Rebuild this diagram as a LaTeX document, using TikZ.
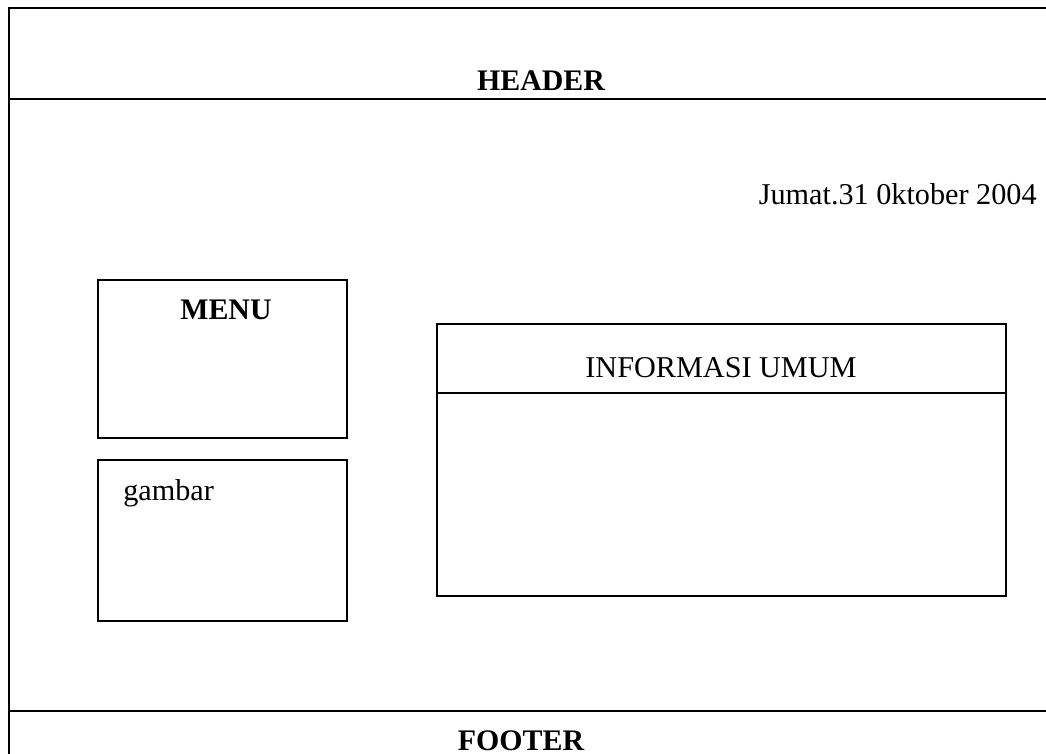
\documentclass[tikz,border=0pt]{standalone}
\usepackage{fontspec}
\setmainfont{Liberation Serif}
\usetikzlibrary{positioning}

\begin{document}
\begin{tikzpicture}[
  x=0.02cm, y=-0.02cm,
  font=\fontsize{17.2}{20}\selectfont,
  frame/.style={line width=1.4pt},
  lbl/.style={inner sep=0pt, anchor=base},
  title/.style={lbl, font=\fontsize{17}{20}\selectfont\bfseries},
]
\useasboundingbox (0,0) rectangle (1046,754);
% page frame
\draw[frame] (1046,8) -- (9,8) -- (9,754);
\draw[frame] (9,99) -- (1046,99);
\draw[frame] (9,711) -- (1046,711);
\node[title] (header) at (541,90) {HEADER};
\node[title] (footer) at (521,750) {FOOTER};
\node[lbl, anchor=base east] (date) at (1037,204) {Jumat.31 0ktober 2004};
% left column
\draw[frame] (98,280) rectangle (347,438);
\node[title] (menu) at (226,319) {MENU};
\draw[frame] (98,460) rectangle (347,621);
\node[lbl, anchor=base west] (gambar) at (123,500) {gambar};
% content panel
\draw[frame] (437,324) rectangle (1006,596);
\draw[frame] (437,393) -- (1006,393);
\node[lbl] (info) at (721,377) {INFORMASI UMUM};
\end{tikzpicture}
\end{document}
